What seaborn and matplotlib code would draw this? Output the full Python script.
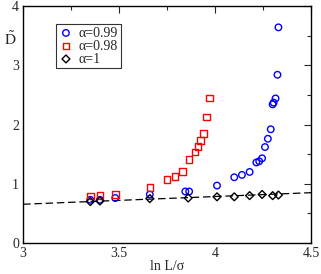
import matplotlib
matplotlib.use("Agg")
import matplotlib.pyplot as plt
import seaborn as sns
from matplotlib.ticker import MultipleLocator

# alpha = 0.99 (circles)
x_099 = [3.35, 3.40, 3.48, 3.66, 3.845, 3.865, 4.01, 4.10, 4.14, 4.18, 4.215,
         4.23, 4.245, 4.26, 4.275, 4.29, 4.30, 4.305, 4.315, 4.325, 4.33]
y_099 = [0.73, 0.73, 0.76, 0.82, 0.87, 0.87, 0.97, 1.11, 1.15, 1.20, 1.36,
         1.38, 1.43, 1.62, 1.76, 1.92, 2.34, 2.37, 2.44, 2.84, 3.64]

# alpha = 0.98 (squares)
x_098 = [3.35, 3.40, 3.48, 3.66, 3.75, 3.79, 3.83, 3.865, 3.895, 3.91, 3.925,
         3.94, 3.955, 3.97]
y_098 = [0.79, 0.80, 0.82, 0.94, 1.07, 1.12, 1.21, 1.41, 1.54, 1.63, 1.73,
         1.85, 2.13, 2.45]

# alpha = 1 (diamonds)
x_1 = [3.35, 3.40, 3.66, 3.86, 4.01, 4.10, 4.18, 4.245, 4.30, 4.33]
y_1 = [0.70, 0.71, 0.75, 0.76, 0.78, 0.78, 0.80, 0.82, 0.80, 0.81]

# dashed fit line
fit_x = [3.0, 4.5]
fit_y = [0.655, 0.85]

sns.set_style("white")
plt.rcParams['font.family'] = ['Liberation Serif', 'DejaVu Serif']
plt.rcParams['mathtext.fontset'] = 'stix'

fig = plt.figure(figsize=(3.21, 2.74), dpi=100)
ax = fig.add_axes([0.072, 0.113, 0.897, 0.865])

sns.lineplot(x=fit_x, y=fit_y, ax=ax, color='black', linestyle=(0, (6, 3)),
             linewidth=0.9, zorder=1)

series = [
    (x_099, y_099, 'o', '#0000ff', 'α=0.99'),
    (x_098, y_098, 's', '#ff0000', 'α=0.98'),
    (x_1, y_1, 'D', 'black', 'α=1'),
]
for xs, ys, mk, col, lab in series:
    sns.scatterplot(x=xs, y=ys, ax=ax, marker=mk, s=22 if mk != 'D' else 16,
                    facecolors='none', edgecolor=col, linewidth=1.0,
                    label=lab, zorder=3)

ax.set_xlim(3, 4.5)
ax.set_ylim(0, 4)
ax.xaxis.set_major_locator(MultipleLocator(0.5))
ax.xaxis.set_minor_locator(MultipleLocator(0.25))
ax.yaxis.set_major_locator(MultipleLocator(1))
ax.yaxis.set_minor_locator(MultipleLocator(0.5))
ax.set_xticks([3, 3.5, 4, 4.5])
ax.set_xticklabels(['3', '3.5', '4', '4.5'])
ax.tick_params(which='both', direction='in', top=True, right=True,
               labelsize=10, pad=3)
ax.tick_params(which='major', length=5, width=0.8)
ax.tick_params(which='minor', length=3, width=0.8)
for sp in ax.spines.values():
    sp.set_color('black')
    sp.set_linewidth(1.0)

ax.set_xlabel('ln L/σ', fontsize=10, labelpad=0)
ax.set_ylabel(r'$\tilde{\mathrm{D}}$', fontsize=11, rotation=0)
ax.yaxis.set_label_coords(-0.045, 0.825)

leg = ax.legend(loc='upper left', bbox_to_anchor=(0.115, 0.925), fontsize=10,
                frameon=True, fancybox=False, handletextpad=0.4,
                borderpad=0.2, labelspacing=0.0, handlelength=1.0,
                borderaxespad=0)
leg.get_frame().set_edgecolor('black')
leg.get_frame().set_linewidth(0.8)

fig.savefig('out.png', dpi=100)
